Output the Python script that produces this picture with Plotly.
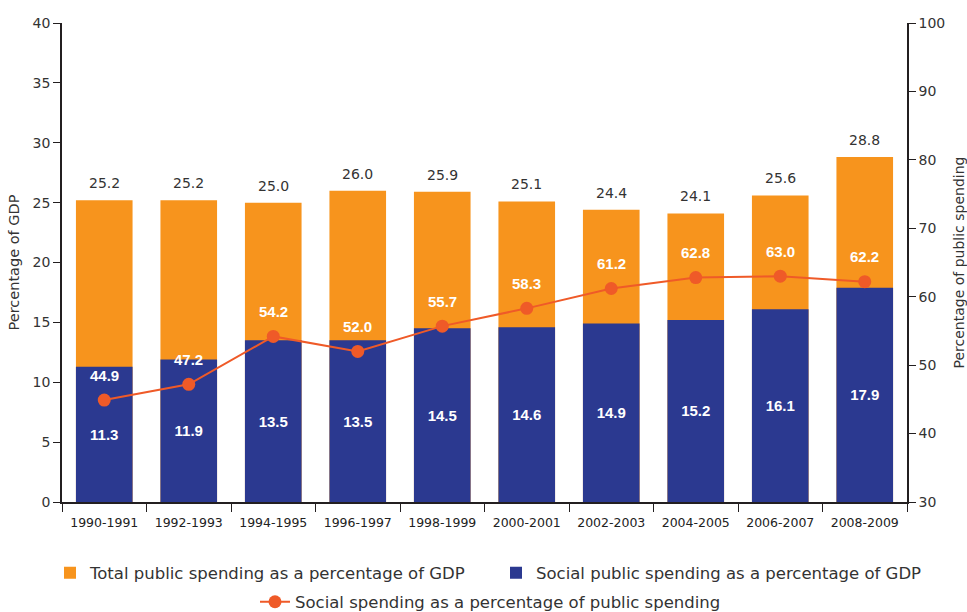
import plotly.graph_objects as go

categories = ["1990-1991", "1992-1993", "1994-1995", "1996-1997", "1998-1999",
              "2000-2001", "2002-2003", "2004-2005", "2006-2007", "2008-2009"]
total_gdp = [25.2, 25.2, 25.0, 26.0, 25.9, 25.1, 24.4, 24.1, 25.6, 28.8]
social_gdp = [11.3, 11.9, 13.5, 13.5, 14.5, 14.6, 14.9, 15.2, 16.1, 17.9]
social_share = [44.9, 47.2, 54.2, 52.0, 55.7, 58.3, 61.2, 62.8, 63.0, 62.2]

ORANGE = "#F7941D"
BLUE = "#2B3990"
RED = "#EF5A28"
AXIS = "#231F20"
FONT = "DejaVu Sans"

fig = go.Figure()
fig.add_trace(go.Bar(
    x=categories, y=total_gdp, name="Total public spending as a percentage of GDP",
    marker=dict(color=ORANGE, line=dict(width=0)), width=0.67,
    legend="legend",
))
fig.add_trace(go.Bar(
    x=categories, y=social_gdp, name="Social public spending as a percentage of GDP",
    marker=dict(color=BLUE, line=dict(width=0)), width=0.67,
    text=[f"{v:.1f}" for v in social_gdp], textposition="inside",
    insidetextanchor="middle",
    textfont=dict(family="Liberation Sans", size=15, color="white", weight="bold"),
    legend="legend3",
))
fig.add_trace(go.Scatter(
    x=categories, y=social_share, yaxis="y2", mode="lines+markers",
    name="Social spending as a percentage of public spending",
    line=dict(color=RED, width=2), marker=dict(color=RED, size=13),
    cliponaxis=False, legend="legend2",
))

annotations = []
for c, v in zip(categories, total_gdp):
    annotations.append(dict(
        x=c, y=v, xref="x", yref="y", text=f"{v:.1f}", showarrow=False,
        yshift=17, font=dict(family=FONT, size=14, color="#333333"),
    ))
for c, v in zip(categories, social_share):
    annotations.append(dict(
        x=c, y=v, xref="x", yref="y2", text=f"{v:.1f}", showarrow=False,
        yshift=25, font=dict(family="Liberation Sans", size=15, color="white", weight="bold"),
    ))

leg_font = dict(size=16.5, color="#333333")
clear = "rgba(0,0,0,0)"
fig.update_layout(
    width=967, height=612,
    margin=dict(l=62, r=60, t=23, b=110, autoexpand=False),
    paper_bgcolor="white", plot_bgcolor="white",
    barmode="overlay",
    font=dict(family=FONT, size=13, color="#333333"),
    annotations=annotations,
    xaxis=dict(
        type="category", tickson="boundaries", ticks="outside", ticklen=8,
        tickcolor=AXIS, showline=True, linecolor=AXIS, linewidth=1.5,
        showgrid=False, tickfont=dict(size=12.5, color="#222222"),
        ticklabelstandoff=8, range=[-0.5, 9.5], automargin=False,
    ),
    yaxis=dict(
        range=[0, 40], dtick=5, ticks="outside", ticklen=7, tickcolor=AXIS,
        showline=True, linecolor=AXIS, linewidth=1.5, showgrid=False, zeroline=False,
        title=dict(text="Percentage of GDP", font=dict(size=14.5), standoff=10),
        tickfont=dict(size=14, color="#333333"), automargin=False,
    ),
    yaxis2=dict(
        overlaying="y", side="right", range=[30, 100], dtick=10,
        ticks="outside", ticklen=7, tickcolor=AXIS,
        showline=True, linecolor=AXIS, linewidth=1.5, showgrid=False, zeroline=False,
        title=dict(text="Percentage of public spending", font=dict(size=14), standoff=10),
        tickfont=dict(size=14, color="#333333"), automargin=False,
    ),
    legend=dict(
        orientation="h", x=50 / 967, xanchor="left", xref="container",
        y=1 - 573 / 612, yanchor="middle", yref="container", font=leg_font,
        bgcolor=clear,
    ),
    legend3=dict(
        orientation="h", x=496 / 967, xanchor="left", xref="container",
        y=1 - 573 / 612, yanchor="middle", yref="container", font=leg_font,
        bgcolor=clear,
    ),
    legend2=dict(
        orientation="h", x=255 / 967, xanchor="left", xref="container",
        y=1 - 602 / 612, yanchor="middle", yref="container", font=leg_font,
        bgcolor=clear,
    ),
    showlegend=True,
)

fig.write_html("out.html", config={"displayModeBar": False},
               post_script="document.body.style.margin='0px';")
